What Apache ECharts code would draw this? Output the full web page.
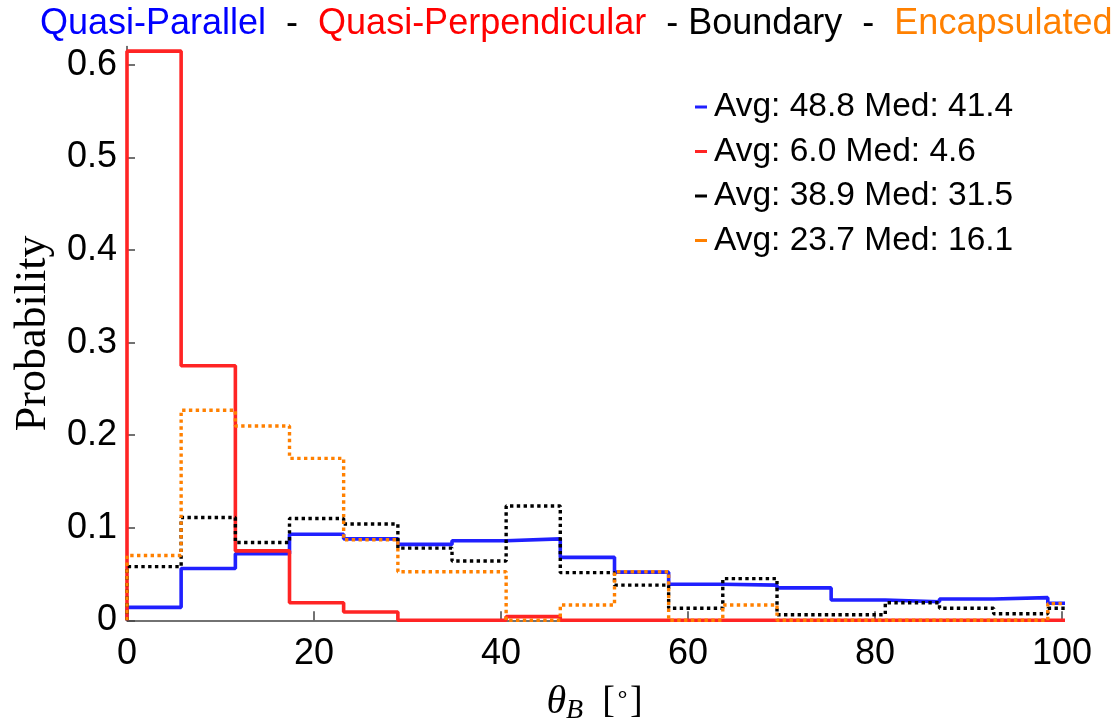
<!DOCTYPE html>
<html>
<head>
<meta charset="utf-8">
<title>theta_B histogram</title>
<script src="https://cdn.jsdelivr.net/npm/echarts@6/dist/echarts.min.js"></script>
<style>
    html, body { margin: 0; padding: 0; background: #fff; }
    #chart { width: 1119px; height: 721px; }
</style>
</head>
<body>
<div id="chart"></div>
<script>
// bin edges of the histogram (deg); last bin runs past 100 and is clipped by the axis
var binEdges = [0, 5.79, 11.59, 17.38, 23.17, 28.97, 34.76, 40.55, 46.34, 52.14,
    57.93, 63.72, 69.52, 75.31, 81.10, 86.90, 92.69, 98.48, 104.28];

// probability per bin
var quasiParallel = [0.014, 0.056, 0.072, 0.093, 0.088, 0.082, 0.086, 0.088, 0.068,
    0.052, 0.039, 0.038, 0.035, 0.022, 0.020, 0.023, 0.0245, 0.0185];
var quasiPerpendicular = [0.615, 0.275, 0.075, 0.019, 0.009, 0, 0, 0.004, 0,
    0, 0, 0, 0, 0, 0, 0, 0, 0];
var boundary = [0.058, 0.111, 0.084, 0.110, 0.104, 0.078, 0.064, 0.1235, 0.0515,
    0.038, 0.013, 0.045, 0.006, 0.006, 0.019, 0.013, 0.007, 0.013];
var encapsulated = [0.070, 0.227, 0.210, 0.175, 0.087, 0.0525, 0.0525, 0, 0.0165,
    0.0525, 0, 0.0165, 0, 0, 0, 0, 0, 0.018];

var seriesNames = ['Quasi-Parallel', 'Quasi-Perpendicular', 'Boundary', 'Encapsulated'];
var seriesStats = ['Avg: 48.8 Med: 41.4', 'Avg: 6.0 Med: 4.6', 'Avg: 38.9 Med: 31.5', 'Avg: 23.7 Med: 16.1'];
var xTicks = [0, 20, 40, 60, 80, 100];
var yTicks = [0, 0.1, 0.2, 0.3, 0.4, 0.5, 0.6];

// turn bin values into stair points
function stairs(values) {
    var pts = [[binEdges[0], 0]];
    for (var i = 0; i < values.length; i++) {
        pts.push([binEdges[i], values[i]]);
    }
    pts.push([binEdges[values.length], values[values.length - 1]]);
    return pts;
}

var sansFont = '"Liberation Sans", Arial, Helvetica, sans-serif';
var serifFont = '"Liberation Serif", "Times New Roman", serif';

function histSeries(name, values, color, dotted) {
    return {
        name: name,
        type: 'line',
        step: 'end',
        showSymbol: false,
        symbol: 'none',
        clip: true,
        data: stairs(values),
        itemStyle: { color: color },
        lineStyle: {
            color: color,
            width: dotted ? 3.4 : 3.6,
            type: dotted ? [3.4, 3.4] : 'solid',
            cap: 'butt'
        },
        emphasis: { disabled: true },
        animation: false
    };
}

var chart = echarts.init(document.getElementById('chart'));
var option = {
    backgroundColor: '#fff',
    animation: false,
    title: {
        left: 35,
        top: 1,
        text: '{b|Quasi-Parallel}{k|  -  }{r|Quasi-Perpendicular}{k|  - Boundary  -  }{o|Encapsulated}',
        textStyle: {
            fontFamily: sansFont,
            fontSize: 36,
            fontWeight: 'normal',
            rich: {
                b: { color: '#0000ff', fontSize: 36, fontFamily: sansFont },
                r: { color: '#ff0000', fontSize: 36, fontFamily: sansFont },
                k: { color: '#000000', fontSize: 36, fontFamily: sansFont },
                o: { color: '#ff8000', fontSize: 36, fontFamily: sansFont }
            }
        }
    },
    legend: {
        orient: 'vertical',
        left: 690,
        top: 84,
        itemWidth: 12,
        itemHeight: 3,
        itemGap: 8.5,
        icon: 'rect',
        selectedMode: false,
        data: seriesNames,
        formatter: function (name) {
            return seriesStats[seriesNames.indexOf(name)];
        },
        textStyle: {
            fontFamily: sansFont,
            fontSize: 33.5,
            lineHeight: 36,
            color: '#000',
            padding: [0, 0, 0, 2]
        }
    },
    grid: {
        left: 127,
        right: 57,
        top: 46.5,
        bottom: 100.7,
        outerBoundsMode: 'none'
    },
    xAxis: {
        type: 'value',
        min: 0,
        max: 100,
        interval: 20,
        name: '{i|θ}{s|B}{n|  [}{d|∘}{n|]}',
        nameLocation: 'middle',
        nameGap: 60,
        nameTextStyle: {
            rich: {
                i: { fontFamily: serifFont, fontStyle: 'italic', fontSize: 40, color: '#000' },
                s: { fontFamily: serifFont, fontStyle: 'italic', fontSize: 28, color: '#000', padding: [16, 0, 0, 0] },
                n: { fontFamily: serifFont, fontSize: 38, color: '#000' },
                d: { fontFamily: serifFont, fontSize: 24, color: '#000', padding: [0, 0, 14, 0] }
            }
        },
        axisLine: { show: true, lineStyle: { color: '#444', width: 1.5 } },
        axisTick: { show: true, inside: true, length: 9, lineStyle: { color: '#444', width: 1.5 }, customValues: xTicks },
        axisLabel: {
            customValues: xTicks,
            margin: 16,
            fontFamily: sansFont,
            fontSize: 36,
            color: '#000'
        },
        splitLine: { show: false }
    },
    yAxis: {
        type: 'value',
        min: 0,
        max: 0.62,
        name: 'Probability',
        nameLocation: 'middle',
        nameGap: 72,
        nameTextStyle: {
            fontFamily: serifFont,
            fontSize: 44,
            color: '#000'
        },
        axisLine: { show: true, lineStyle: { color: '#444', width: 1.5 } },
        axisTick: { show: true, inside: true, length: 8, lineStyle: { color: '#444', width: 1.5 }, customValues: yTicks },
        axisLabel: {
            customValues: yTicks,
            margin: 10,
            fontFamily: sansFont,
            fontSize: 36,
            color: '#000'
        },
        splitLine: { show: false }
    },
    series: [
        histSeries(seriesNames[0], quasiParallel, '#2020ff', false),
        histSeries(seriesNames[1], quasiPerpendicular, '#ff2424', false),
        histSeries(seriesNames[2], boundary, '#000000', true),
        histSeries(seriesNames[3], encapsulated, '#ff8000', true)
    ]
};
chart.setOption(option);
</script>
</body>
</html>
